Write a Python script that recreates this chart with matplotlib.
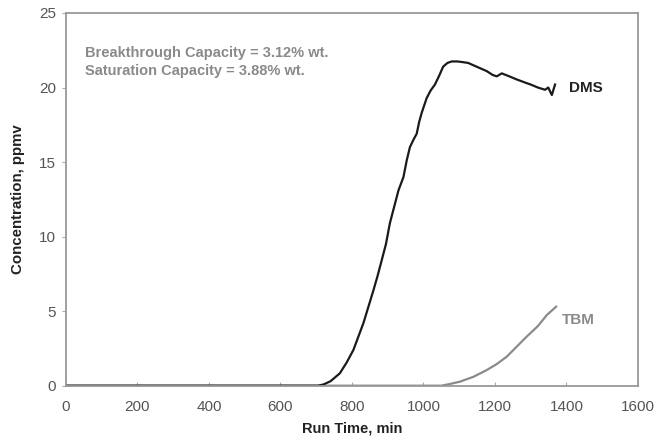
import matplotlib.pyplot as plt

plt.rcParams['font.family'] = ['Liberation Sans', 'DejaVu Sans']

# DMS breakthrough curve (run time min, concentration ppmv)
dms_t = [0, 705, 720, 740, 766, 785, 804, 818, 832, 846, 860, 872, 883, 895, 906,
         918, 930, 944, 953, 962, 972, 981, 988, 995, 1009, 1020, 1032, 1044, 1055,
         1067, 1079, 1095, 1111, 1125, 1139, 1158, 1177, 1193, 1205, 1219, 1240,
         1260, 1288, 1300, 1320, 1340, 1349, 1359, 1368]
dms_c = [0, 0, 0.08, 0.3, 0.83, 1.55, 2.4, 3.3, 4.2, 5.3, 6.4, 7.4, 8.4, 9.5, 10.9,
         12.0, 13.1, 14.0, 15.1, 16.0, 16.5, 16.9, 17.7, 18.3, 19.3, 19.8, 20.2, 20.8, 21.4,
         21.65, 21.75, 21.75, 21.7, 21.65, 21.5, 21.3, 21.1, 20.85, 20.75, 20.95, 20.75,
         20.55, 20.3, 20.2, 20.0, 19.85, 20.0, 19.5, 20.2]

# TBM breakthrough curve
tbm_t = [0, 1050, 1075, 1102, 1140, 1177, 1205, 1233, 1260, 1289, 1320, 1345, 1371]
tbm_c = [0, 0, 0.12, 0.27, 0.6, 1.05, 1.45, 1.95, 2.6, 3.3, 4.0, 4.74, 5.3]

xticks = [0, 200, 400, 600, 800, 1000, 1200, 1400, 1600]
yticks = [0, 5, 10, 15, 20, 25]

fig = plt.figure(figsize=(6.65, 4.42), dpi=100)
ax = fig.add_axes([0.0992, 0.1274, 0.8602, 0.8432])

ax.plot(tbm_t, tbm_c, color='#8a8a8a', lw=1.6)
ax.plot(dms_t, dms_c, color='#1a1a1a', lw=1.6)

ax.set_xlim(0, 1600)
ax.set_ylim(0, 25)
ax.set_xticks(xticks)
ax.set_yticks(yticks)
ax.tick_params(axis='both', colors='#aaaaaa', labelcolor='#555555', labelsize=11, length=3)
ax.tick_params(axis='x', direction='in', pad=10)
ax.tick_params(axis='y', pad=4)
for s in ax.spines.values():
    s.set_color('#999999')
    s.set_linewidth(1.3)

ax.set_xlabel('Run Time, min', fontsize=10.5, fontweight='bold', color='#222222', labelpad=6)
ax.set_ylabel('Concentration, ppmv', fontsize=10.8, fontweight='bold', color='#222222', labelpad=10)

ax.text(1407, 20.0, 'DMS', fontsize=11, fontweight='bold', color='#222222', va='center')
ax.text(1387, 4.4, 'TBM', fontsize=11, fontweight='bold', color='#8a8a8a', va='center')
ax.text(52, 21.7, 'Breakthrough Capacity = 3.12% wt.\nSaturation Capacity = 3.88% wt.',
        fontsize=10.5, fontweight='bold', color='#8a8a8a', va='center', linespacing=1.35)

fig.savefig('out.png', dpi=100)
